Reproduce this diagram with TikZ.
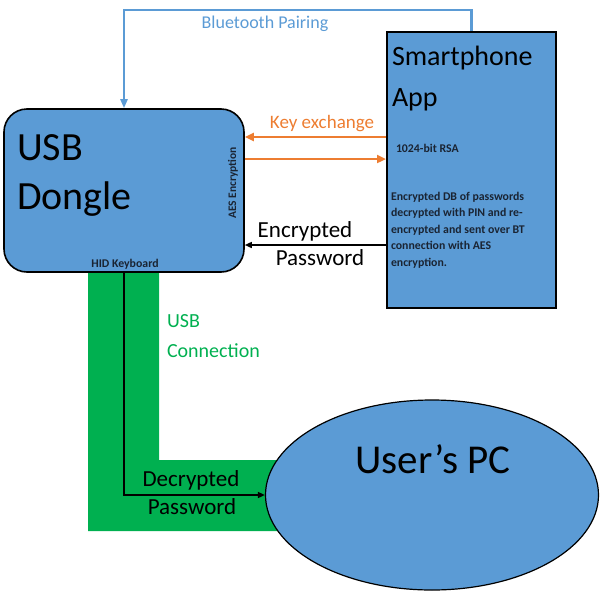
\documentclass[tikz,border=0pt]{standalone}
\usepackage{fontspec}
\setmainfont{Carlito}
\usetikzlibrary{arrows.meta,shapes.geometric}
\definecolor{boxblue}{HTML}{5B9BD5}
\definecolor{orng}{HTML}{ED7D31}
\definecolor{grn}{HTML}{00B050}
\definecolor{btblue}{HTML}{5B9BD5}
\definecolor{darktxt}{HTML}{1A2433}
\newcommand{\fsz}[1]{\fontsize{#1}{#1}\selectfont}
\tikzset{
  shapebox/.style={draw=black, fill=boxblue, inner sep=0pt},
  txt/.style={inner sep=0pt, outer sep=0pt},
  smalltxt/.style={txt, text=darktxt, font=\bfseries\fsz{11.8}},
  btline/.style={draw=btblue, line width=2.4pt, -{Triangle[length=9pt,width=7pt]}},
  orline/.style={draw=orng, line width=2.8pt, -{Triangle[length=9pt,width=8pt]}},
  blkline/.style={draw=black, line width=1.5pt, -{Triangle[length=7pt,width=6pt]}},
}
\begin{document}
\begin{tikzpicture}[x=1pt,y=-1pt]
\useasboundingbox (0,0) rectangle (600,600);
% green USB band
\fill[grn] (88,272) -- (159,272) -- (159,460) -- (320,460) -- (320,531) -- (88,531) -- cycle;
% shapes
\node[shapebox, line width=1.6pt, rounded corners=23pt, minimum width=240pt, minimum height=163pt] (dongle) at (124,190.5) {};
\node[shapebox, line width=2pt, minimum width=169pt, minimum height=276pt] (phone) at (471.5,170) {};
\node[shapebox, ellipse, line width=1.2pt, minimum width=333pt, minimum height=190pt] (pc) at (432,495) {};
% connectors
\draw[btline] (phone.north) |- (dongle.north |- 0,10) -- (dongle.north);
\draw[orline] (phone.west |- 0,137) -- (dongle.east |- 0,137);
\draw[orline] (dongle.east |- 0,159) -- (phone.west |- 0,159);
\draw[blkline] (phone.west |- 0,245) -- (dongle.east |- 0,245);
\draw[blkline] (dongle.south) |- (pc.west);
% texts
\node[txt, anchor=base, text=btblue, font=\fsz{18}] (btlbl) at (265,28) {Bluetooth Pairing};
\node[txt, anchor=base west, font=\fsz{28}] (sp1) at (392,65) {Smartphone};
\node[txt, anchor=base west, font=\fsz{28}] (sp2) at (392,106) {App};
\node[smalltxt, anchor=base west] (rsa) at (396,152) {1024-bit RSA};
\foreach \t [count=\i] in {Encrypted DB of passwords, decrypted with PIN and re-, encrypted and sent over BT, connection with AES, encryption.}
  \node[smalltxt, anchor=base west] (par\i) at (391,183.5+16.5*\i) {\t};
\node[txt, anchor=base west, font=\fsz{40}] (usb1) at (17,160) {USB};
\node[txt, anchor=base west, font=\fsz{40}] (usb2) at (17,209) {Dongle};
\node[smalltxt, rotate=90, font=\bfseries\fsz{11.5}] (aes) at (233,183) {AES Encryption};
\node[smalltxt] (hid) at (125,264) {HID Keyboard};
\node[txt, anchor=base, text=orng, font=\fsz{19}] (kex) at (322,128) {Key exchange};
\node[txt, anchor=base, font=\fsz{23}] (enc1) at (305,237) {Encrypted};
\node[txt, anchor=base, font=\fsz{23}] (enc2) at (320,265) {Password};
\node[txt, anchor=base west, text=grn, font=\fsz{20}] (uc1) at (167,327) {USB};
\node[txt, anchor=base west, text=grn, font=\fsz{20}] (uc2) at (167,357) {Connection};
\node[txt, anchor=base, font=\fsz{23}] (dec1) at (191,486) {Decrypted};
\node[txt, anchor=base, font=\fsz{23}] (dec2) at (192,514) {Password};
\node[txt, anchor=base, font=\fsz{41}] (pclbl) at (433,473) {User’s PC};
\end{tikzpicture}
\end{document}
